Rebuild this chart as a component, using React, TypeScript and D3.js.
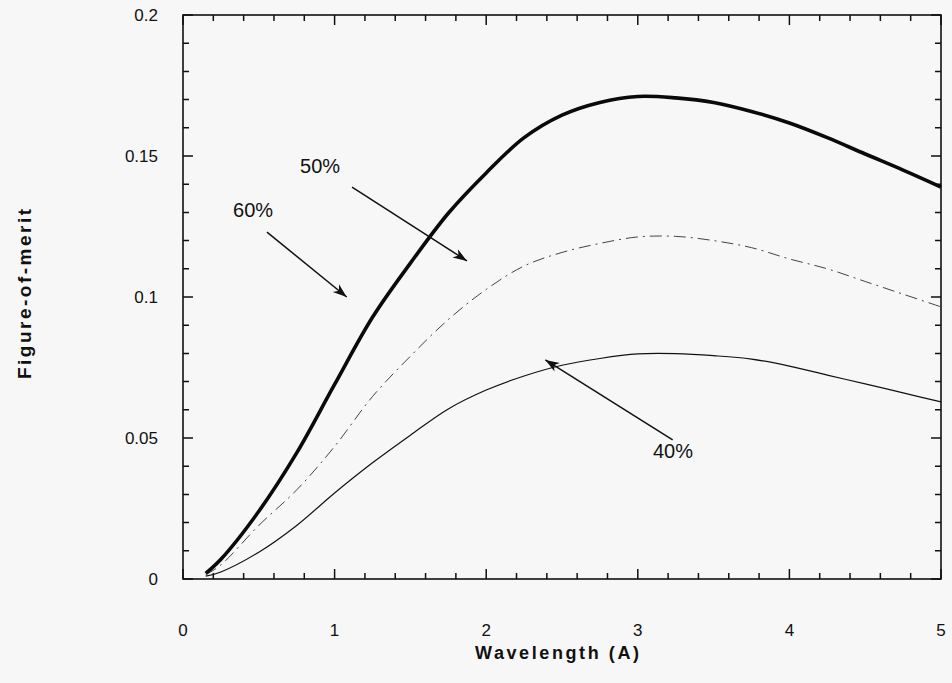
import * as d3 from "d3";

// wavelength grid (A) shared by the three curves
const wavelengths = [0.15, 0.25, 0.5, 0.75, 1, 1.25, 1.5, 1.75, 2, 2.25, 2.5, 2.75, 3, 3.25, 3.5, 3.75, 4, 4.25, 4.5, 4.75, 5];

// figure-of-merit
const merit60 = [0.002, 0.007, 0.024, 0.0447, 0.069, 0.0928, 0.112, 0.1297, 0.144, 0.1565, 0.1645, 0.169, 0.1711, 0.1706, 0.169, 0.1658, 0.1617, 0.1565, 0.1507, 0.145, 0.139];
const merit50 = [0.0015, 0.005, 0.019, 0.0316, 0.047, 0.0647, 0.079, 0.092, 0.1027, 0.111, 0.1158, 0.119, 0.1213, 0.1215, 0.12, 0.1175, 0.1135, 0.11, 0.1055, 0.101, 0.0965];
const merit40 = [0.001, 0.0025, 0.0095, 0.019, 0.0305, 0.0412, 0.051, 0.0603, 0.067, 0.072, 0.0758, 0.0782, 0.0798, 0.0799, 0.0792, 0.078, 0.0755, 0.0723, 0.0692, 0.066, 0.0628];

const xTicks = [0, 1, 2, 3, 4, 5];
const yTicks = [0, 0.05, 0.1, 0.15, 0.2];
const yTickLabels = ["0", "0.05", "0.1", "0.15", "0.2"];

// annotations: label position + arrow (from -> to) in data units
const notes = [
  { label: "60%", lx: 0.33, ly: 0.1284, x1: 0.554, y1: 0.123, x2: 1.08, y2: 0.1 },
  { label: "50%", lx: 0.772, ly: 0.144, x1: 1.115, y1: 0.139, x2: 1.873, y2: 0.1128 },
  { label: "40%", lx: 3.1, ly: 0.0429, x1: 3.23, y1: 0.0493, x2: 2.39, y2: 0.0777 },
];

const W = 952;
const H = 683;
const mLeft = 183, mRight = 941, mTop = 15, mBottom = 579;

export default function App() {
  const x = d3.scaleLinear().domain([0, 5]).range([mLeft, mRight]);
  const y = d3.scaleLinear().domain([0, 0.2]).range([mBottom, mTop]);

  const line = d3.line<number>()
    .x((d, i) => x(wavelengths[i]))
    .y((d) => y(d))
    .curve(d3.curveCatmullRom.alpha(0.5));

  // minor ticks every 0.2 / 0.01, major every 1 / 0.05
  const xMinor = d3.range(0, 26).map((i) => i * 0.2);
  const yMinor = d3.range(0, 21).map((i) => i * 0.01);

  let tickPath = "";
  xMinor.forEach((v, i) => {
    const len = i % 5 === 0 ? 10 : 6;
    const px = x(v);
    tickPath += `M${px},${mBottom}V${mBottom - len}M${px},${mTop}V${mTop + len}`;
  });
  yMinor.forEach((v, i) => {
    const len = i % 5 === 0 ? 10 : 6;
    const py = y(v);
    tickPath += `M${mLeft},${py}H${mLeft + len}M${mRight},${py}H${mRight - len}`;
  });

  const font = "Liberation Sans, Arial, Helvetica, sans-serif";
  const ink = "#111";

  return (
    <svg width={W} height={H} style={{ position: "absolute", left: 0, top: 0 }} fontFamily={font}>
      <defs>
        <marker id="arr" viewBox="-14 -6 16 12" refX="0" refY="0" markerWidth="16" markerHeight="12"
          markerUnits="userSpaceOnUse" orient="auto">
          <path d="M0,0 L-14,-5 L-10,0 L-14,5 Z" fill={ink} />
        </marker>
      </defs>
      <rect x={0} y={0} width={W} height={H} fill="#f7f7f7" />

      {/* ticks, inward on all sides */}
      <path d={tickPath} fill="none" stroke={ink} strokeWidth={1.5} />
      <rect x={mLeft} y={mTop} width={mRight - mLeft} height={mBottom - mTop} fill="none" stroke={ink} strokeWidth={1.6} />

      {/* curves */}
      <path d={line(merit40) || ""} fill="none" stroke={ink} strokeWidth={1.2} />
      <path d={line(merit50) || ""} fill="none" stroke="#444" strokeWidth={1} strokeDasharray="12,5,2,5" />
      <path d={line(merit60) || ""} fill="none" stroke="#0a0a0a" strokeWidth={3.6} />

      {/* annotations */}
      {notes.map((n) => (
        <g key={n.label}>
          <text x={x(n.lx)} y={y(n.ly)} fontSize={20} fill={ink}>{n.label}</text>
          <line x1={x(n.x1)} y1={y(n.y1)} x2={x(n.x2)} y2={y(n.y2)} stroke={ink} strokeWidth={1.5} markerEnd="url(#arr)" />
        </g>
      ))}

      {/* tick labels */}
      {xTicks.map((v) => (
        <text key={"xl" + v} x={x(v)} y={636} textAnchor="middle" fontSize={17} fill={ink}>{v}</text>
      ))}
      {yTicks.map((v, i) => (
        <text key={"yl" + v} x={158} y={y(v)} dy="0.35em" textAnchor="end" fontSize={17} fill={ink}>{yTickLabels[i]}</text>
      ))}

      {/* axis titles */}
      <text x={557} y={659} textAnchor="middle" fontSize={18} fontWeight="bold" fill={ink}
        textLength={164} lengthAdjust="spacing">Wavelength  (A)</text>
      <text transform="translate(31,294) rotate(-90)" textAnchor="middle" fontSize={19} fontWeight="bold" fill={ink}
        textLength={170} lengthAdjust="spacing">Figure-of-merit</text>
    </svg>
  );
}
